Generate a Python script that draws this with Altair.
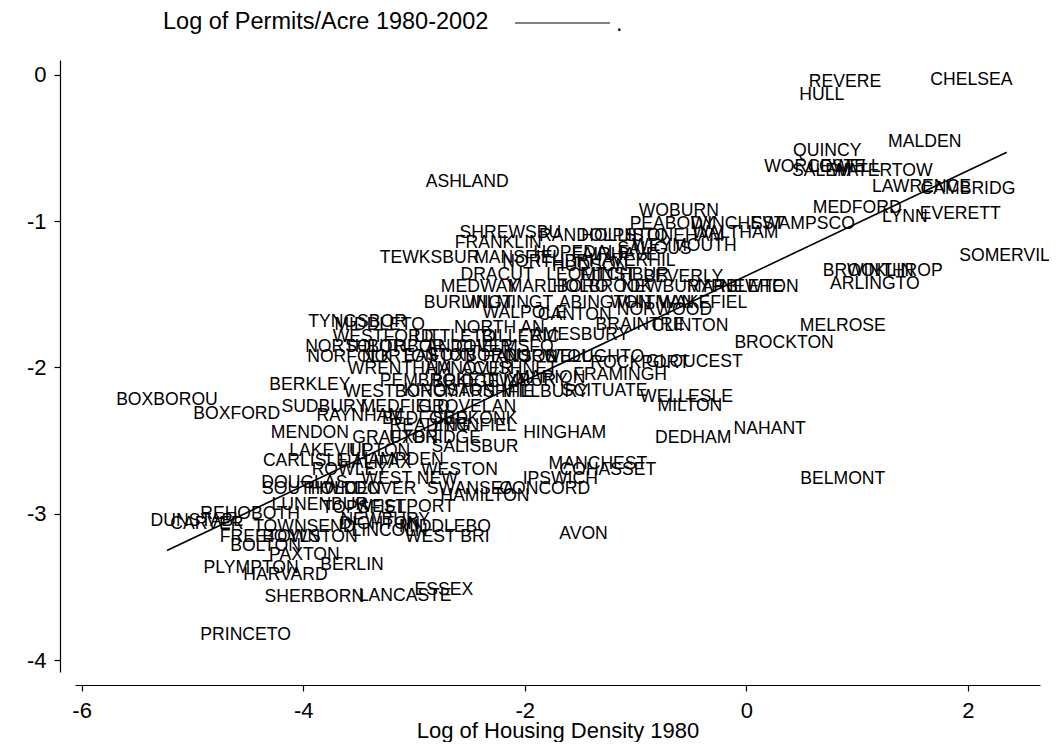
import altair as alt
import pandas as pd

# Town labels (label centre positions)
towns = [
    "REVERE", "HULL", "CHELSEA", "MALDEN", "QUINCY", "WORCESTE", "SALEM", "LOWELL", "WATERTOW",
    "ASHLAND", "LAWRENCE", "CAMBRIDG", "MEDFORD", "WOBURN", "LYNN", "EVERETT", "PEABODY",
    "WINCHEST", "SWAMPSCO", "SHREWSBU", "RANDOLPH", "HOLLISTO", "STONEHAM", "WALTHAM",
    "FRANKLIN", "WEYMOUTH", "TEWKSBUR", "MANSFIEL", "HOPEDALE", "FAIRHAVE", "SAUGUS",
    "NORTHBRI", "HUDSON", "HAVERHIL", "DRACUT", "LEOMINST", "FITCHBUR", "BEVERLY", "MEDWAY",
    "MARLBORO", "HOLBROOK", "NEWBURYP", "MARBLEHE", "NEWTON", "BROOKLIN", "WINTHROP",
    "ARLINGTO", "SOMERVIL", "BURLINGT", "WILMINGT", "ABINGTON", "WHITMAN", "WAKEFIEL",
    "NORWOOD", "WALPOLE", "CANTON", "TYNGSBOR", "MIDDLETO", "NORTH AN", "BRAINTRE", "CLINTON",
    "MELROSE", "WESTFORD", "LITTLETO", "BILLERIC", "AMESBURY", "BROCKTON", "NORTHBOR",
    "SOUTHBOR", "ANDOVER", "CHELMSFO", "NORFOLK", "NORTON", "EASTON", "FOXBOROU", "HANSON",
    "STOUGHTO", "ROCKPORT", "GLOUCEST", "NORWELL", "WRENTHAM", "HANOVER", "ACUSHNET",
    "FRAMINGH", "MARION", "PEMBROKE", "BRIDGEWA", "DUXBURY", "BERKLEY", "WESTBORO", "KINGSTON",
    "MARSHFIE", "MILLBURY", "SCITUATE", "WELLESLE", "BOXBOROU", "MILTON", "SUDBURY",
    "MEDFIELD", "GROVELAN", "BOXFORD", "RAYNHAM", "BEDFORD", "SEEKONK", "READING", "LYNNFIEL",
    "MENDON", "UXBRIDGE", "GRAFTON", "HINGHAM", "DEDHAM", "NAHANT", "SALISBUR", "LAKEVILL",
    "UPTON", "CARLISLE", "HALIFAX", "HAMPDEN", "ROWLEY", "WESTON", "MANCHEST", "COHASSET",
    "BELMONT", "WEST NEW", "IPSWICH", "DOUGLAS", "SOUTHWIC", "HOLDEN", "DOVER", "SWANSEA",
    "CONCORD", "HAMILTON", "LUNENBUR", "TOPSFIEL", "WESTPORT", "REHOBOTH", "NEWBURY",
    "DUNSTABL", "CARVER", "TOWNSEND", "DIGHTON", "LINCOLN", "MIDDLEBO", "WEST BRI", "AVON",
    "FREETOWN", "BOYLSTON", "BOLTON", "PAXTON", "BERLIN", "PLYMPTON", "HARVARD", "ESSEX",
    "LANCASTE", "SHERBORN", "PRINCETO",
]
housing_density = [
    0.89, 0.68, 2.03, 1.61, 0.73, 0.62, 0.68, 0.89, 1.22,
    -2.52, 1.58, 2.00, 1.00, -0.61, 1.43, 1.93, -0.67,
    -0.08, 0.51, -2.13, -1.43, -1.10, -0.65, -0.10,
    -2.24, -0.56, -2.86, -2.06, -1.49, -1.19, -0.83,
    -1.79, -1.41, -1.03, -2.25, -1.40, -1.10, -0.57, -2.41,
    -1.70, -1.30, -0.67, -0.10, 0.12, 1.10, 1.34,
    1.16, 2.33, -2.51, -2.14, -1.28, -0.85, -0.39,
    -0.74, -2.00, -1.55, -3.51, -3.31, -2.23, -0.96, -0.51,
    0.87, -3.28, -2.63, -2.04, -1.50, 0.34, -3.53,
    -3.17, -2.50, -2.18, -3.58, -3.13, -2.77, -2.41, -2.04,
    -1.37, -0.96, -0.47, -1.79, -3.13, -2.50, -2.14,
    -1.14, -1.77, -2.86, -2.41, -2.00, -3.94, -3.17, -2.68,
    -2.32, -1.82, -1.28, -0.54, -5.23, -0.51, -3.81,
    -3.08, -2.52, -4.60, -3.49, -2.90, -2.45, -2.86, -2.45,
    -3.94, -2.81, -3.17, -1.64, -0.48, 0.21, -2.45, -3.76,
    -3.31, -3.98, -3.35, -3.13, -3.58, -2.59, -1.34, -1.25,
    0.87, -3.04, -1.68, -3.99, -3.94, -3.63, -3.26, -2.49,
    -1.82, -2.36, -3.85, -3.45, -3.08, -4.48, -3.26,
    -4.96, -4.87, -3.99, -3.31, -3.22, -2.72, -2.70, -1.47,
    -4.30, -3.94, -4.34, -3.99, -3.56, -4.47, -4.16, -2.73,
    -3.08, -3.90, -4.52,
]
permits_per_acre = [
    -0.05, -0.14, -0.04, -0.46, -0.52, -0.63, -0.66, -0.63, -0.66,
    -0.73, -0.77, -0.78, -0.91, -0.93, -0.97, -0.95, -1.02,
    -1.02, -1.02, -1.08, -1.10, -1.10, -1.10, -1.08,
    -1.15, -1.17, -1.25, -1.25, -1.22, -1.23, -1.19,
    -1.28, -1.31, -1.27, -1.37, -1.37, -1.37, -1.38, -1.45,
    -1.45, -1.45, -1.45, -1.45, -1.45, -1.34, -1.34,
    -1.43, -1.24, -1.56, -1.56, -1.56, -1.56, -1.56,
    -1.61, -1.63, -1.64, -1.69, -1.71, -1.73, -1.71, -1.72,
    -1.72, -1.79, -1.79, -1.79, -1.78, -1.83, -1.86,
    -1.86, -1.86, -1.86, -1.93, -1.93, -1.92, -1.92, -1.93,
    -1.93, -1.97, -1.96, -1.93, -2.01, -2.01, -2.01,
    -2.05, -2.07, -2.09, -2.10, -2.09, -2.12, -2.17, -2.16,
    -2.17, -2.17, -2.16, -2.20, -2.22, -2.26, -2.27,
    -2.27, -2.27, -2.32, -2.33, -2.35, -2.35, -2.40, -2.40,
    -2.45, -2.48, -2.48, -2.45, -2.48, -2.42, -2.54, -2.57,
    -2.57, -2.64, -2.65, -2.63, -2.70, -2.70, -2.66, -2.70,
    -2.76, -2.76, -2.76, -2.79, -2.83, -2.83, -2.83, -2.83,
    -2.83, -2.88, -2.94, -2.96, -2.95, -3.00, -3.04,
    -3.05, -3.07, -3.09, -3.07, -3.12, -3.09, -3.16, -3.14,
    -3.16, -3.16, -3.22, -3.28, -3.35, -3.37, -3.42, -3.52,
    -3.56, -3.57, -3.83,
]

# Fitted line endpoints
fit_x = [-5.23, 2.35]
fit_y = [-3.25, -0.53]

x_ticks = [-6, -4, -2, 0, 2]
y_ticks = [0, -1, -2, -3, -4]

FONT = "Liberation Sans"

df = pd.DataFrame({"x": housing_density, "y": permits_per_acre, "name": towns})
fit = pd.DataFrame({"x": fit_x, "y": fit_y})

xscale = alt.Scale(domain=[-6.06, 2.65], nice=False, zero=False)
yscale = alt.Scale(domain=[-4.08, 0.10], nice=False, zero=False)

labels = alt.Chart(df).mark_text(
    font=FONT, fontSize=17.6, color="black", align="center", baseline="middle"
).encode(
    x=alt.X("x:Q", scale=xscale, axis=alt.Axis(
        values=x_ticks, title="Log of Housing Density 1980", offset=13,
        labelPadding=9, titleY=52, titleBaseline="alphabetic",
        labelExpr="'' + datum.value")),
    y=alt.Y("y:Q", scale=yscale, axis=alt.Axis(
        values=y_ticks, title=None, offset=15, labelPadding=8,
        labelExpr="'' + datum.value")),
    text="name:N",
)

line = alt.Chart(fit).mark_line(color="black", strokeWidth=1.6).encode(
    x=alt.X("x:Q", scale=xscale),
    y=alt.Y("y:Q", scale=yscale),
)

legend_text = alt.Chart(pd.DataFrame({"t": ["Log of Permits/Acre 1980-2002"]})).mark_text(
    font=FONT, fontSize=23.5, color="black", align="left", baseline="alphabetic"
).encode(x=alt.value(88), y=alt.value(-31), text="t:N")

legend_rule = alt.Chart(pd.DataFrame({"a": [0]})).mark_rule(
    color="black", strokeWidth=1.2
).encode(x=alt.value(440), x2=alt.value(535), y=alt.value(-37))

legend_dot = alt.Chart(pd.DataFrame({"t": ["."]})).mark_text(
    font=FONT, fontSize=23.5, color="black", align="left", baseline="alphabetic"
).encode(x=alt.value(541), y=alt.value(-29), text="t:N")

chart = alt.layer(labels, line, legend_text, legend_rule, legend_dot).properties(
    width=965, height=612,
    autosize=alt.AutoSizeParams(type="none"),
    padding={"left": 67, "top": 52, "right": 9, "bottom": 70},
).configure_view(stroke=None).configure_axis(
    grid=False, domainColor="black", domainWidth=1.2, tickColor="black", tickWidth=1.2,
    tickSize=6, labelFont=FONT, labelFontSize=22, labelColor="black",
    titleFont=FONT, titleFontSize=22, titleFontWeight="normal", titleColor="black",
)

chart.save("out.html", embed_options={"renderer": "svg", "actions": False})
